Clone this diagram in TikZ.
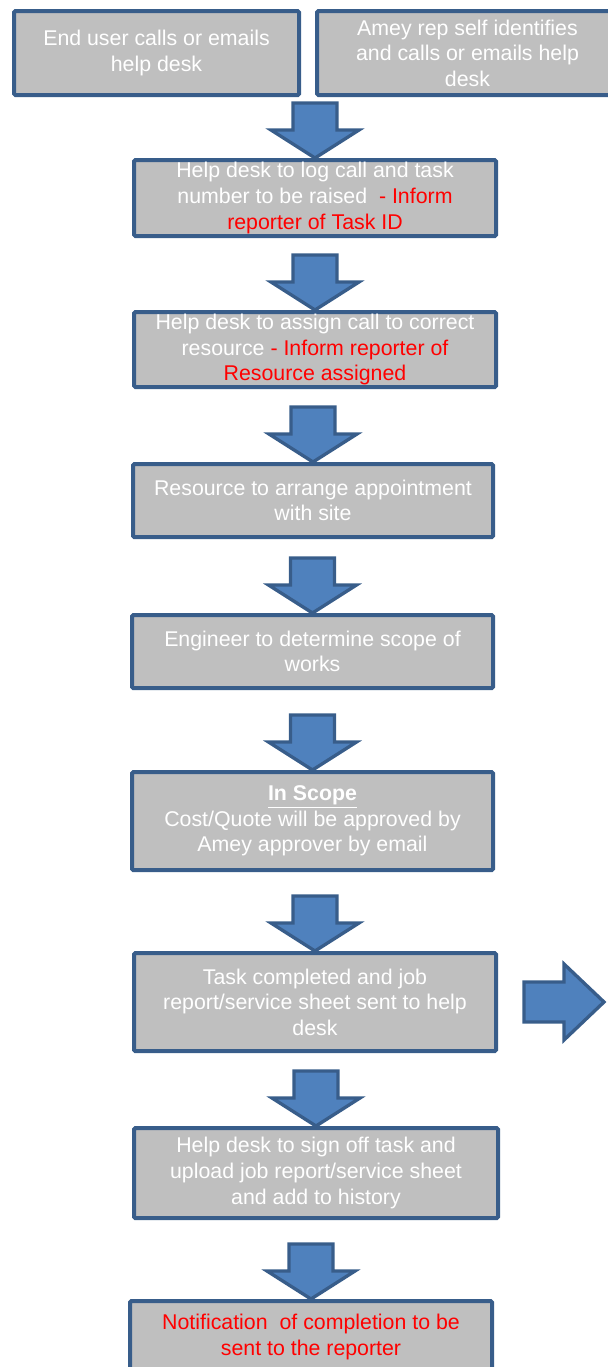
\documentclass[tikz,border=0pt]{standalone}
\usepackage{fontspec}
\setmainfont{Liberation Sans}
\usetikzlibrary{calc}

\definecolor{boxgray}{HTML}{BFBFBF}
\definecolor{boxline}{HTML}{385D8A}
\definecolor{arrowblue}{HTML}{4F81BD}
\definecolor{alertred}{HTML}{FF0000}

\tikzset{
  flowbox/.style 2 args={draw=boxline, fill=boxgray, line width=3pt, rounded corners=1pt,
    inner sep=0pt, align=center, text=white, font=\fontsize{16}{19.2}\selectfont,
    minimum width=#1*0.75pt, minimum height=#2*0.75pt},
  blockarrow/.style={draw=boxline, fill=arrowblue, line width=2.5pt, line join=miter},
}
\newcommand\blockdown[1]{\draw[blockarrow] (#1) -- ++(-44,-28) -- ++(22,0) -- ++(0,-27)
  -- ++(44,0) -- ++(0,27) -- ++(22,0) -- cycle;}

\begin{document}
\begin{tikzpicture}[x=0.75pt, y=-0.75pt]
\useasboundingbox (0,0) rectangle (607,1367);

\node[flowbox={285}{84}] (enduser) at (156.5,53) {End user calls or emails\\help desk};
\node[flowbox={301}{84}] (ameyrep) at (467.5,53) {Amey rep self identifies\\and calls or emails help\\desk};
\node[flowbox={362}{76}] (logcall) at (315,198) {Help desk to log call and task\\number to be raised~ \textcolor{alertred}{- Inform}\\\textcolor{alertred}{reporter of Task ID}};
\node[flowbox={362}{75}] (assign) at (315,349.5) {Help desk to assign call to correct\\resource \textcolor{alertred}{- Inform reporter of}\\\textcolor{alertred}{Resource assigned}};
\node[flowbox={360}{73}] (appoint) at (313,500.5) {Resource to arrange appointment\\with site};
\node[flowbox={361}{73}] (scope) at (312.5,651.5) {Engineer to determine scope of\\works};
\node[flowbox={361}{98}] (inscope) at (312.5,821) {\textbf{\underline{In Scope}}\\Cost/Quote will be approved by\\Amey approver by email};
\node[flowbox={362}{98}] (done) at (315,1002) {Task completed and job\\report/service sheet sent to help\\desk};
\node[flowbox={364}{90}] (signoff) at (316,1173) {Help desk to sign off task and\\upload job report/service sheet\\and add to history};
\node[flowbox={362}{72}] (notify) at (311,1337) {\textcolor{alertred}{Notification~ of completion to be}\\\textcolor{alertred}{sent to the reporter}};

\blockdown{logcall.north}
\blockdown{assign.north}
\blockdown{appoint.north}
\blockdown{scope.north}
\blockdown{inscope.north}
\blockdown{done.north}
\blockdown{signoff.north}
\blockdown{notify.north}

% arrow off to the right of the completed task
\coordinate (donetip) at ($(done.east)+(106,0)$);
\draw[blockarrow] (donetip) -- ++(-40,-38) -- ++(0,18) -- ++(-40,0) -- ++(0,40) -- ++(40,0) -- ++(0,18) -- cycle;

\end{tikzpicture}
\end{document}
